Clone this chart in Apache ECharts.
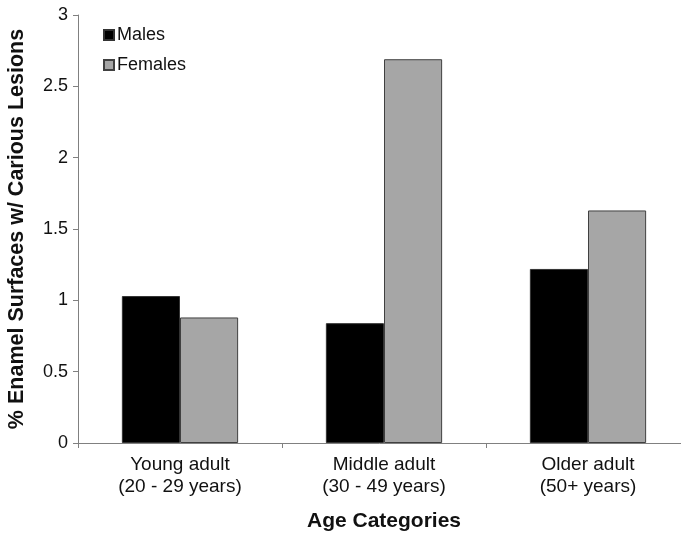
<!DOCTYPE html>
<html>
<head>
<meta charset="utf-8">
<script src="https://cdn.jsdelivr.net/npm/echarts@6/dist/echarts.min.js"></script>
<style>
  html, body { margin: 0; padding: 0; background: #fff; }
  #chart { width: 681px; height: 534px; }
</style>
</head>
<body>
<div id="chart"></div>
<script>
// Age groups and their percentage of enamel surfaces with carious lesions
const categories = ['Young adult\n(20 - 29 years)', 'Middle adult\n(30 - 49 years)', 'Older adult\n(50+ years)'];
const males = [1.03, 0.84, 1.22];
const females = [0.88, 2.69, 1.63];
const yTicks = [0, 0.5, 1, 1.5, 2, 2.5, 3];

const FONT = '"Liberation Sans", Arial, sans-serif';
const chart = echarts.init(document.getElementById('chart'), null, { renderer: 'canvas' });

chart.setOption({
  animation: false,
  backgroundColor: '#ffffff',
  textStyle: { fontFamily: FONT },
  legend: {
    orient: 'vertical',
    left: 98,
    top: 21,
    itemWidth: 10,
    itemHeight: 10,
    itemGap: 12,
    icon: 'rect',
    textStyle: { fontFamily: FONT, fontSize: 18, color: '#111', padding: [0, 0, 0, -2] },
    data: ['Males', 'Females']
  },
  // the plot runs slightly past the right edge of the canvas
  grid: { left: 78, top: 15, width: 612, height: 428, containLabel: false, outerBoundsMode: 'none' },
  xAxis: {
    type: 'category',
    data: categories,
    name: 'Age Categories',
    nameLocation: 'middle',
    nameGap: 68,
    nameTextStyle: { fontFamily: FONT, fontSize: 21, fontWeight: 'bold', color: '#111' },
    axisLine: { lineStyle: { color: '#808080', width: 1 } },
    axisTick: { show: true, length: 5, interval: 0, lineStyle: { color: '#808080' } },
    axisLabel: { fontFamily: FONT, fontSize: 19, color: '#111', margin: 11, lineHeight: 22, interval: 0 }
  },
  yAxis: {
    type: 'value',
    min: yTicks[0],
    max: yTicks[yTicks.length - 1],
    interval: 0.5,
    name: '% Enamel Surfaces w/ Carious Lesions',
    nameLocation: 'middle',
    nameGap: 50,
    nameTextStyle: { fontFamily: FONT, fontSize: 21.5, fontWeight: 'bold', color: '#111' },
    axisLine: { show: true, lineStyle: { color: '#808080', width: 1 } },
    axisTick: { show: true, length: 5, lineStyle: { color: '#808080' } },
    splitLine: { show: false },
    axisLabel: { fontFamily: FONT, fontSize: 18, color: '#111', margin: 10 }
  },
  series: [
    {
      name: 'Males',
      type: 'bar',
      data: males,
      barGap: '0%',
      barCategoryGap: '43%',
      itemStyle: { color: '#000000', borderColor: '#333333', borderWidth: 1 }
    },
    {
      name: 'Females',
      type: 'bar',
      data: females,
      itemStyle: { color: '#a6a6a6', borderColor: '#404040', borderWidth: 1 }
    }
  ]
});
</script>
</body>
</html>
